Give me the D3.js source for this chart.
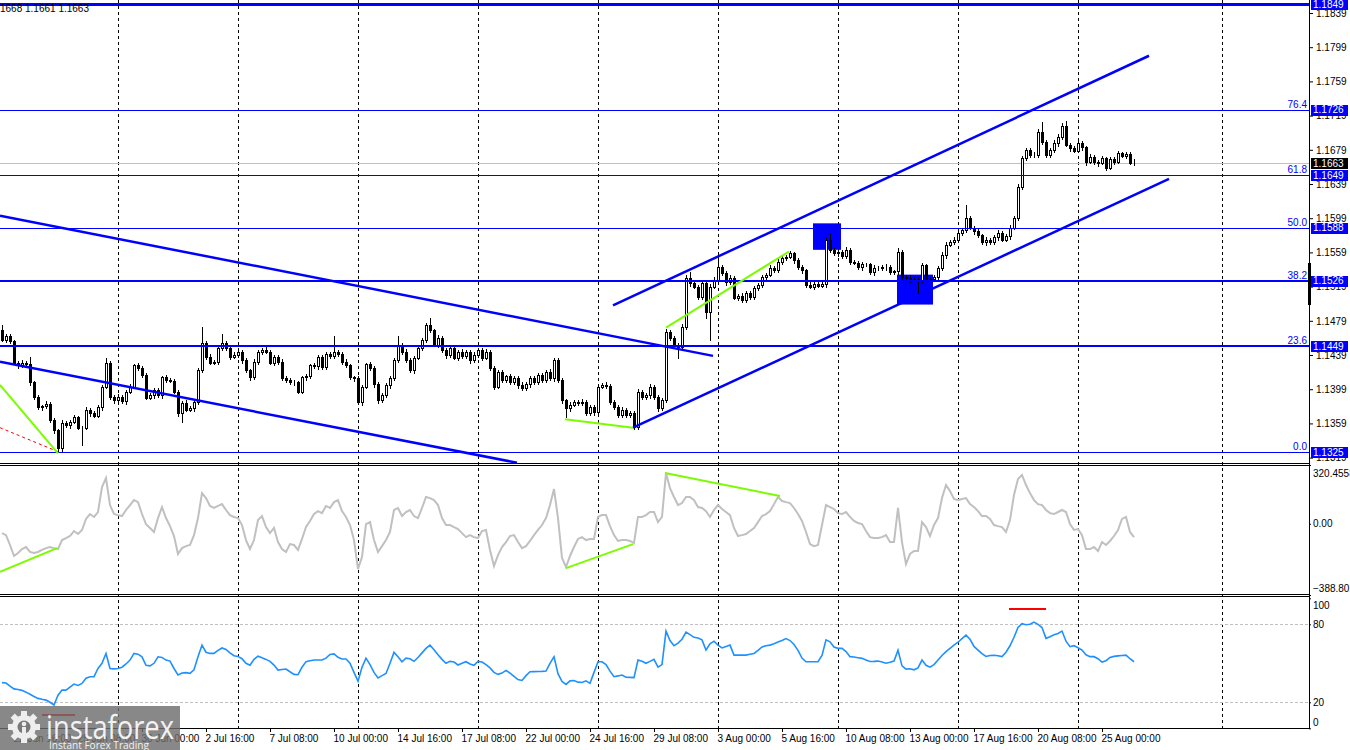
<!DOCTYPE html>
<html>
<head>
<meta charset="utf-8">
<script src="https://cdn.jsdelivr.net/npm/d3@7"></script>
<style>
  html, body { margin: 0; padding: 0; background: #fff; }
  svg { display: block; font-family: "Liberation Sans", Arial, sans-serif; }
</style>
</head>
<body>
<div id="chart"></div>
<script>
// EURUSD H4 — candles, one value per bar
const firstOpen = 1.1468;
const closes = [
  1.1457,1.1461,1.1455,1.1430,1.1427,1.1430,1.1428,1.1407,1.1390,1.1378,
  1.1379,1.1382,1.1363,1.1351,1.1330,1.1360,1.1357,1.1361,1.1366,1.1354,
  1.1354,1.1375,1.1371,1.1368,1.1378,1.1402,1.1430,1.1390,1.1386,1.1390,
  1.1385,1.1396,1.1402,1.1427,1.1424,1.1416,1.1389,1.1392,1.1398,1.1392,
  1.1413,1.1410,1.1409,1.1396,1.1371,1.1383,1.1375,1.1377,1.1384,1.1421,
  1.1453,1.1437,1.1430,1.1431,1.1447,1.1453,1.1447,1.1437,1.1439,1.1443,
  1.1433,1.1421,1.1413,1.1431,1.1443,1.1445,1.1443,1.1430,1.1437,1.1431,
  1.1412,1.1410,1.1407,1.1407,1.1396,1.1413,1.1414,1.1427,1.1426,1.1437,
  1.1425,1.1440,1.1438,1.1443,1.1440,1.1431,1.1427,1.1413,1.1412,1.1384,
  1.1402,1.1428,1.1424,1.1405,1.1386,1.1392,1.1404,1.1412,1.1433,1.1451,
  1.1443,1.1433,1.1421,1.1436,1.1447,1.1457,1.1474,1.1468,1.1451,1.1459,
  1.1445,1.1439,1.1447,1.1436,1.1443,1.1438,1.1443,1.1433,1.1439,1.1445,
  1.1436,1.1443,1.1424,1.1402,1.1419,1.1410,1.1414,1.1407,1.1412,1.1404,
  1.1400,1.1405,1.1412,1.1407,1.1416,1.1410,1.1419,1.1412,1.1433,1.1410,
  1.1386,1.1377,1.1381,1.1384,1.1383,1.1384,1.1371,1.1378,1.1372,1.1402,
  1.1404,1.1403,1.1384,1.1378,1.1369,1.1375,1.1369,1.1371,1.1355,1.1396,
  1.1390,1.1392,1.1402,1.1390,1.1377,1.1386,1.1466,1.1459,1.1451,1.1448,
  1.1472,1.1529,1.1523,1.1519,1.1507,1.1523,1.1489,1.1519,1.1527,1.1542,
  1.1535,1.1524,1.1529,1.1506,1.1508,1.1503,1.1512,1.1507,1.1517,1.1521,
  1.1530,1.1533,1.1541,1.1538,1.1548,1.1552,1.1554,1.1558,1.1550,1.1542,
  1.1538,1.1521,1.1519,1.1522,1.1520,1.1522,1.1574,1.1562,1.1558,1.1560,
  1.1555,1.1562,1.1548,1.1547,1.1542,1.1545,1.1545,1.1536,1.1541,1.1541,
  1.1542,1.1542,1.1536,1.1537,1.1560,1.1530,1.1529,1.1527,1.1528,1.1527,
  1.1544,1.1527,1.1528,1.1530,1.1541,1.1556,1.1568,1.1571,1.1574,1.1582,
  1.1585,1.1599,1.1588,1.1584,1.1579,1.1571,1.1574,1.1571,1.1577,1.1582,
  1.1574,1.1578,1.1588,1.1599,1.1636,1.1669,1.1679,1.1673,1.1673,1.1700,
  1.1688,1.1673,1.1679,1.1687,1.1694,1.1707,1.1685,1.1681,1.1678,1.1687,
  1.1682,1.1665,1.1671,1.1665,1.1664,1.1669,1.1658,1.1668,1.1665,1.1675,
  1.1672,1.1674,1.1664,1.1663
];
// wick lengths in pips above / below the body
const wickUp = [
  6,3,2,2,2,3,2,9,2,2, 2,3,2,2,2,3,2,2,3,2, 2,3,2,2,3,2,6,2,2,3, 2,2,3,2,3,2,2,3,2,3,
  2,3,2,2,2,2,3,2,2,3, 19,2,3,2,3,10,2,2,3,2, 2,3,2,3,2,2,3,2,2,2, 3,2,2,3,2,2,3,2,3,2,
  2,3,2,18,2,2,3,2,2,3, 2,2,3,2,2,3,2,2,3,10, 2,3,2,2,3,2,3,8,2,3, 2,2,3,2,2,3,2,2,3,2,
  2,3,2,2,3,2,2,3,2,2, 3,2,2,3,2,2,3,4,3,3, 2,2,3,2,2,3,2,2,3,3, 2,3,2,2,2,3,2,2,2,3,
  2,3,3,2,2,3,3,2,2,2, 3,3,7,2,2,3,2,3,3,14, 2,2,3,2,2,3,2,2,3,2, 3,2,3,2,3,3,2,3,2,2,
  2,2,3,2,2,3,3,8,2,3, 2,3,2,2,2,3,2,2,3,2, 2,3,2,2,4,2,2,3,2,2, 3,2,2,3,2,3,3,2,3,3,
  2,15,3,2,2,2,3,2,2,3, 2,3,3,3,3,3,2,2,3,3, 12,2,2,3,3,3,6,2,2,3, 2,2,3,2,2,3,2,3,2,3,
  2,2,2,4
];
const wickDn = [
  2,3,2,2,3,2,2,3,2,2, 3,2,2,3,4,4,2,3,2,2, 20,2,3,2,2,3,2,2,3,2, 2,3,2,2,2,3,2,2,3,2,
  3,2,2,2,3,10,2,2,3,2, 2,3,2,2,3,2,2,3,2,2, 3,2,3,2,2,3,2,2,3,2, 2,3,2,3,2,2,3,2,2,3,
  2,2,3,2,2,3,2,2,3,2, 3,2,2,3,3,2,2,3,2,2, 3,2,2,3,2,2,3,2,2,3, 2,3,2,2,3,2,2,3,2,2,
  3,2,2,3,2,2,3,2,2,3, 2,2,3,2,2,3,2,2,3,2, 3,11,3,2,2,3,2,2,3,2, 2,3,2,2,3,2,2,3,3,2,
  2,2,3,2,3,2,2,3,2,13, 2,2,3,2,3,2,7,32,2,2, 2,3,2,2,3,2,2,3,2,2, 2,3,2,2,2,3,2,2,3,2,
  3,2,2,3,2,2,3,2,2,3, 2,2,3,2,2,3,2,2,3,2, 2,3,2,2,3,2,2,3,2,15, 3,2,2,3,2,2,3,2,2,2,
  3,2,2,3,2,2,3,2,2,3, 2,2,3,2,2,3,2,2,3,2, 2,3,2,2,3,2,2,3,2,2, 3,4,2,3,4,2,3,2,3,2,
  2,3,2,2
];
const cci = [
  -51,-62,-116,-176,-160,-138,-127,-154,-160,-154,
  -143,-133,-127,-133,-138,-89,-78,-67,-40,-56,
  -34,26,53,37,64,200,249,102,53,47,
  42,75,102,129,118,53,-2,-23,-45,31,
  91,31,-13,-67,-165,-133,-122,-116,-62,31,
  167,140,97,86,97,107,75,47,37,31,
  -7,-89,-138,-89,20,42,-18,-51,-23,-100,
  -138,-154,-111,-116,-143,-83,-18,15,53,69,
  58,97,86,118,129,69,37,-7,-89,-247,
  -182,-2,9,-89,-154,-122,-89,-45,75,86,
  42,64,75,42,31,86,146,140,129,102,
  31,-7,-7,-18,-29,-51,-73,-62,-73,-78,
  -40,-34,-143,-231,-171,-127,-100,-67,-62,-100,
  -133,-122,-94,-62,-34,-7,31,102,189,31,
  -187,-236,-176,-127,-83,-73,-89,-83,-83,37,
  47,47,-13,-62,-94,-89,-89,-94,-105,37,
  37,47,64,64,9,37,277,194,146,102,
  113,146,146,129,91,86,69,37,75,102,
  80,64,47,-23,-67,-62,-56,-40,-23,9,
  42,53,69,107,146,124,118,113,86,53,
  15,-45,-111,-122,-116,-7,102,91,80,58,
  53,64,37,15,4,-2,-40,-73,-78,-78,
  -73,-62,-100,-100,86,-100,-220,-165,-149,-149,
  9,-18,-67,-7,31,140,211,178,135,129,
  135,140,107,91,69,42,42,26,-7,-13,
  -18,-45,20,157,244,266,211,167,129,107,
  102,75,58,53,64,75,64,-2,-34,-29,
  -62,-138,-138,-127,-149,-100,-116,-94,-67,-34,
  26,37,-45,-73
];
const rsi = [
  35.1,34.8,32.5,30.3,29.8,29.2,27.8,26.2,24.5,23.0,
  22.3,21.7,20.0,17.9,25.5,29.4,29.4,31.7,34.0,33.0,
  34.5,38.5,39.7,39.7,46.0,50.0,57.6,46.0,45.7,46.0,
  47.0,49.5,52.5,57.6,57.0,55.0,48.5,48.0,50.0,55.0,
  54.5,52.5,51.7,46.0,41.0,42.5,42.8,42.3,45.0,55.0,
  64.0,58.5,57.6,57.6,60.0,61.8,60.7,58.0,55.8,55.3,
  53.5,50.0,48.5,53.0,55.5,54.2,53.0,51.5,48.6,44.8,
  45.2,45.6,43.5,41.5,41.2,47.0,51.3,52.0,52.5,52.5,
  52.5,54.0,56.8,57.2,54.6,53.3,53.3,50.0,43.0,36.3,
  47.0,54.0,49.0,43.0,38.8,40.5,42.2,50.0,58.4,55.0,
  51.2,54.0,53.5,51.5,54.5,58.0,61.5,64.0,60.5,56.5,
  53.0,50.0,51.5,51.0,48.7,50.0,51.2,49.5,48.5,51.5,
  51.0,49.0,46.5,43.0,41.5,42.5,44.5,42.5,40.0,37.5,
  36.8,40.5,43.5,43.6,43.7,43.8,44.0,50.0,55.0,42.0,
  36.0,33.8,36.5,36.8,35.5,35.2,36.5,34.6,43.0,51.2,
  51.2,49.0,44.0,39.7,40.3,41.0,39.3,39.2,39.0,52.5,
  51.5,50.0,51.5,53.0,47.0,49.0,74.8,67.5,63.5,65.5,
  68.5,74.0,72.0,70.0,69.5,68.0,60.2,65.0,67.0,64.0,
  61.8,63.0,64.0,56.3,56.3,56.3,56.3,57.0,57.6,60.0,
  62.6,63.5,64.0,65.0,66.3,67.5,69.0,67.5,64.5,60.0,
  54.0,51.2,51.2,51.2,51.2,56.0,68.0,66.5,62.5,61.5,
  61.5,59.0,55.1,54.8,54.3,53.8,52.6,51.4,51.5,51.7,
  51.0,50.1,50.8,51.7,60.0,48.0,45.5,45.8,45.0,46.5,
  52.5,48.5,47.0,49.0,52.5,56.0,59.0,61.5,64.0,66.2,
  69.0,71.7,68.5,63.0,60.2,57.5,55.3,56.0,56.2,55.8,
  55.2,58.5,63.5,70.0,77.5,80.5,79.7,80.0,81.7,80.0,
  77.5,69.2,70.5,72.0,73.0,74.8,67.0,62.8,63.6,62.0,
  60.2,56.5,55.1,55.1,53.5,51.0,52.0,54.5,55.3,55.7,
  56.0,56.3,53.5,51.2
];

const timeLabels = ["22 Jun 16:00","25 Jun 08:00","30 Jun 00:00","2 Jul 16:00","7 Jul 08:00",
  "10 Jul 00:00","14 Jul 16:00","17 Jul 08:00","22 Jul 00:00","24 Jul 16:00","29 Jul 08:00",
  "3 Aug 00:00","5 Aug 16:00","10 Aug 08:00","13 Aug 00:00","17 Aug 16:00","20 Aug 08:00","25 Aug 00:00"];
const labelBars = [3,19,35,51,67,83,99,115,131,147,163,179,195,211,227,243,259,275];
const gridBars = [29,59,89,119,149,179,209,239,269,305];
const priceTicks = [1.1319,1.1359,1.1399,1.1439,1.1479,1.1519,1.1559,1.1599,1.1639,1.1679,1.1719,1.1759,1.1799,1.1839];
const fibLevels = [1.1325, 1.1449, 1.1526, 1.1588, 1.1649, 1.1726, 1.1849];
const fibNames  = ["0.0", "23.6", "38.2", "50.0", "61.8", "76.4", "100.0"];
const lastPrice = 1.1663;
const cciMax = 320.4558, cciMin = -388.8025;
const rsiLevels = [80, 20];

// drawn objects: [bar1, value1, bar2, value2]
const channelLines = [
  [-0.5, 1.1602, 177.75, 1.1438],
  [-0.5, 1.1431, 128.75, 1.1313],
  [157.75, 1.1354, 291.75, 1.1645],
  [152.75, 1.1497, 286.75, 1.1789]
];
const greenPriceLines = [
  [-0.5, 1.1404, 14, 1.1324],
  [140.75, 1.1364, 157.75, 1.1354],
  [166, 1.1471, 196.75, 1.1560]
];
const redPriceLine = [-0.5, 1.1354, 14, 1.1326];
const greenCciLines = [
  [-0.5, -263, 13.75, -133],
  [141, -242, 157.75, -111],
  [165.75, 277, 194.5, 151]
];
const redRsiLines = [
  [10, 10.2, 18.25, 10.2],
  [251.75, 91.8, 261, 91.8]
];
// [bar1, bar2, priceLow, priceHigh]
const boxes = [
  [202.75, 209.75, 1.1562, 1.1593],
  [223.75, 232.75, 1.1498, 1.1533]
];

const W = 1350, H = 750;
const axisX = 1309;
const BLUE = "#0000ff", GREEN = "#7cfc00";

const x = d3.scaleLinear().domain([0, 327]).range([2, 1310]);
const y = d3.scaleLinear().domain([1.13127, 1.18542]).range([463, 0]);
const yCci = d3.scaleLinear().domain([cciMin, cciMax]).range([595, 465]);
const yRsi = d3.scaleLinear().domain([0, 100]).range([728.3, 598.3]);

const svg = d3.select("#chart").append("svg").attr("width", W).attr("height", H);
svg.append("rect").attr("width", W).attr("height", H).attr("fill", "#fff");

const defs = svg.append("defs");
defs.append("clipPath").attr("id", "clipMain").append("rect")
  .attr("x", 0).attr("y", 0).attr("width", axisX).attr("height", 463);
defs.append("clipPath").attr("id", "clipCci").append("rect")
  .attr("x", 0).attr("y", 466).attr("width", axisX).attr("height", 128);
defs.append("clipPath").attr("id", "clipRsi").append("rect")
  .attr("x", 0).attr("y", 597).attr("width", axisX).attr("height", 131);

// weekly grid
gridBars.forEach(b => {
  const gx = Math.round(x(b)) + 0.5;
  svg.append("line").attr("x1", gx).attr("x2", gx).attr("y1", 0).attr("y2", 728)
    .attr("stroke", "#000").attr("stroke-width", 1).attr("stroke-dasharray", "3,3");
});

// ---------- main panel ----------
const main = svg.append("g").attr("clip-path", "url(#clipMain)");

boxes.forEach(b => {
  main.append("rect")
    .attr("x", x(b[0])).attr("y", y(b[3]))
    .attr("width", x(b[1]) - x(b[0])).attr("height", y(b[2]) - y(b[3]))
    .attr("fill", BLUE);
});

main.append("line").attr("x1", 0).attr("x2", axisX)
  .attr("y1", Math.round(y(lastPrice)) + 0.5).attr("y2", Math.round(y(lastPrice)) + 0.5)
  .attr("stroke", "#c0c0c0").attr("stroke-width", 1);

const candles = closes.map((c, i) => {
  const o = i === 0 ? firstOpen : closes[i - 1];
  const h = Math.max(o, c) + (wickUp[i] || 0) / 10000;
  const l = Math.min(o, c) - (wickDn[i] || 0) / 10000;
  return { i, o, h, l, c };
});

const cg = main.append("g").attr("shape-rendering", "crispEdges");
cg.selectAll("line.wick").data(candles).enter().append("line")
  .attr("class", "wick")
  .attr("x1", d => Math.round(x(d.i)) + 0.5).attr("x2", d => Math.round(x(d.i)) + 0.5)
  .attr("y1", d => Math.round(y(d.h))).attr("y2", d => Math.round(y(d.l)) + 1)
  .attr("stroke", "#000").attr("stroke-width", 1);
cg.selectAll("rect.body").data(candles).enter().append("rect")
  .attr("class", "body")
  .attr("x", d => Math.round(x(d.i)) - 0.5)
  .attr("y", d => Math.round(y(Math.max(d.o, d.c))) + 0.5)
  .attr("width", 2)
  .attr("height", d => Math.max(0, Math.round(y(Math.min(d.o, d.c))) - Math.round(y(Math.max(d.o, d.c)))))
  .attr("fill", d => d.c >= d.o ? "#fff" : "#000")
  .attr("stroke", "#000").attr("stroke-width", 1);

// fibonacci / horizontal levels
const levelWidth = { "100.0": 3, "38.2": 2, "23.6": 2 };
fibLevels.forEach((lv, i) => {
  const w = levelWidth[fibNames[i]] || 1;
  const ly = w % 2 ? Math.round(y(lv)) + 0.5 : Math.round(y(lv));
  main.append("line").attr("x1", 0).attr("x2", axisX).attr("y1", ly).attr("y2", ly)
    .attr("stroke", BLUE).attr("stroke-width", w);
  if (fibNames[i] !== "100.0") {
    main.append("text").attr("x", axisX - 2).attr("y", y(lv) - 2)
      .attr("text-anchor", "end").attr("font-size", 10).attr("fill", BLUE)
      .text(fibNames[i]);
  }
});

channelLines.forEach(s => {
  main.append("line").attr("x1", x(s[0])).attr("y1", y(s[1])).attr("x2", x(s[2])).attr("y2", y(s[3]))
    .attr("stroke", BLUE).attr("stroke-width", 2.5);
});
main.append("line").attr("x1", x(redPriceLine[0])).attr("y1", y(redPriceLine[1]))
  .attr("x2", x(redPriceLine[2])).attr("y2", y(redPriceLine[3]))
  .attr("stroke", "#ff0000").attr("stroke-width", 1).attr("stroke-dasharray", "3,3");
greenPriceLines.forEach(s => {
  main.append("line").attr("x1", x(s[0])).attr("y1", y(s[1])).attr("x2", x(s[2])).attr("y2", y(s[3]))
    .attr("stroke", GREEN).attr("stroke-width", 2);
});

// ---------- CCI panel ----------
const cciG = svg.append("g").attr("clip-path", "url(#clipCci)");
cciG.append("path").datum(cci)
  .attr("d", d3.line().x((d, i) => x(i)).y(d => yCci(d)))
  .attr("fill", "none").attr("stroke", "#c0c0c0").attr("stroke-width", 2);
greenCciLines.forEach(s => {
  cciG.append("line").attr("x1", x(s[0])).attr("y1", yCci(s[1])).attr("x2", x(s[2])).attr("y2", yCci(s[3]))
    .attr("stroke", GREEN).attr("stroke-width", 2);
});

// ---------- RSI panel ----------
const rsiG = svg.append("g").attr("clip-path", "url(#clipRsi)");
rsiLevels.forEach(lv => {
  rsiG.append("line").attr("x1", 0).attr("x2", axisX)
    .attr("y1", Math.round(yRsi(lv)) + 0.5).attr("y2", Math.round(yRsi(lv)) + 0.5)
    .attr("stroke", "#c0c0c0").attr("stroke-width", 1).attr("stroke-dasharray", "3,2");
});
rsiG.append("path").datum(rsi)
  .attr("d", d3.line().x((d, i) => x(i)).y(d => yRsi(d)))
  .attr("fill", "none").attr("stroke", "#1e90ff").attr("stroke-width", 1.6);
redRsiLines.forEach(s => {
  rsiG.append("line").attr("x1", x(s[0])).attr("y1", yRsi(s[1])).attr("x2", x(s[2])).attr("y2", yRsi(s[3]))
    .attr("stroke", "#ff0000").attr("stroke-width", 2);
});

// ---------- frames ----------
[463.5, 465.5, 594.5, 596.5, 728.5].forEach(by => {
  svg.append("line").attr("x1", 0).attr("x2", axisX + 1).attr("y1", by).attr("y2", by)
    .attr("stroke", "#000").attr("stroke-width", 1);
});
svg.append("line").attr("x1", axisX + 0.5).attr("x2", axisX + 0.5).attr("y1", 0).attr("y2", 729)
  .attr("stroke", "#000").attr("stroke-width", 1);
svg.append("rect").attr("x", axisX - 1).attr("y", 263).attr("width", 3).attr("height", 42).attr("fill", "#000");

// ---------- axes ----------
const fontFam = "Liberation Sans, Arial, sans-serif";
const gy = svg.append("g").attr("transform", `translate(${axisX},0)`)
  .call(d3.axisRight(y).tickValues(priceTicks).tickSize(4).tickFormat(d3.format(".4f")));
gy.select(".domain").remove();
gy.attr("font-family", fontFam).attr("font-size", 10);
gy.selectAll("text").attr("x", 7).attr("fill", "#000");

const gc = svg.append("g").attr("transform", `translate(${axisX},0)`)
  .call(d3.axisRight(yCci).tickValues([cciMax, 0, cciMin]).tickSize(2)
    .tickFormat(d => d === 0 ? "0.00" : d3.format(".4f")(d)));
gc.select(".domain").remove();
gc.attr("font-family", fontFam).attr("font-size", 10);
gc.selectAll("text").attr("x", 4).attr("dy", (d) => d === cciMax ? "1.1em" : d === cciMin ? "-0.35em" : "0.32em");

const gr = svg.append("g").attr("transform", `translate(${axisX},0)`)
  .call(d3.axisRight(yRsi).tickValues([100, 80, 20, 0]).tickSize(2));
gr.select(".domain").remove();
gr.attr("font-family", fontFam).attr("font-size", 10);
gr.selectAll("text").attr("x", 4).attr("dy", d => d === 100 ? "1.0em" : d === 0 ? "-0.3em" : "0.32em");

const gx = svg.append("g").attr("transform", "translate(0,728)")
  .call(d3.axisBottom(x).tickValues(labelBars).tickSize(4).tickFormat((d, i) => timeLabels[i]));
gx.select(".domain").remove();
gx.attr("font-family", fontFam).attr("font-size", 10);
gx.selectAll("text").attr("text-anchor", "start").attr("x", -1).attr("fill", "#000");

// price tags on the axis
fibLevels.forEach(lv => {
  const ty = y(lv);
  svg.append("rect").attr("x", axisX + 2).attr("y", Math.round(ty) - 5).attr("width", 37).attr("height", 11)
    .attr("fill", BLUE);
  svg.append("text").attr("x", axisX + 4).attr("y", ty).attr("dy", "0.34em")
    .attr("font-size", 10).attr("fill", "#fff").text(lv.toFixed(4));
});
svg.append("rect").attr("x", axisX + 2).attr("y", Math.round(y(lastPrice)) - 5).attr("width", 37).attr("height", 11)
  .attr("fill", "#000");
svg.append("text").attr("x", axisX + 4).attr("y", y(lastPrice)).attr("dy", "0.34em")
  .attr("font-size", 10).attr("fill", "#fff").text(lastPrice.toFixed(4));

// header
svg.append("text").attr("x", 0).attr("y", 12).attr("font-size", 10).attr("fill", "#000")
  .text("1668 1.1661 1.1663");

// ---------- logo ----------
const logo = svg.append("g");
logo.append("rect").attr("x", 0).attr("y", 706).attr("width", 180).attr("height", 44)
  .attr("fill", "#6e6e6e").attr("opacity", 0.82);
const gear = logo.append("g").attr("transform", "translate(24,727)");
for (let a = 0; a < 8; a++) {
  gear.append("rect").attr("x", -3).attr("y", -16).attr("width", 6).attr("height", 8)
    .attr("transform", `rotate(${a * 45})`).attr("fill", "#eeeeee");
}
gear.append("circle").attr("r", 12).attr("fill", "#eeeeee");
gear.append("circle").attr("r", 6.5).attr("fill", "#7a7a7a");
gear.append("circle").attr("cy", -3).attr("r", 2.3).attr("fill", "#eeeeee");
gear.append("rect").attr("x", -2).attr("y", 0).attr("width", 4).attr("height", 12).attr("fill", "#eeeeee");
logo.append("text").attr("x", 46).attr("y", 739)
  .attr("font-family", "Open Sans, sans-serif").attr("font-size", 33).attr("fill", "#f2f2f2")
  .attr("textLength", 128).attr("lengthAdjust", "spacingAndGlyphs").text("instaforex");
logo.append("text").attr("x", 49).attr("y", 749)
  .attr("font-family", "Open Sans, sans-serif").attr("font-size", 11.5).attr("fill", "#f2f2f2")
  .attr("textLength", 100).attr("lengthAdjust", "spacingAndGlyphs").text("Instant Forex Trading");
</script>
</body>
</html>
